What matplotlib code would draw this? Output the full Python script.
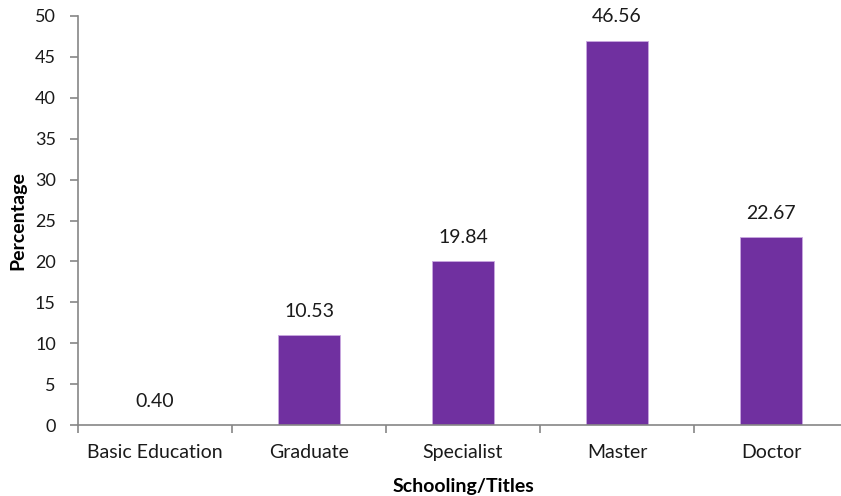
import numpy as np
import matplotlib
matplotlib.use("Agg")
import matplotlib.pyplot as plt

categories = ["Basic Education", "Graduate", "Specialist", "Master", "Doctor"]
labels = ["0.40", "10.53", "19.84", "46.56", "22.67"]
# bar heights as drawn in the source chart (rounded)
heights = [0, 11, 20, 47, 23]

plt.rcParams["font.family"] = ["Lato", "DejaVu Sans"]

fig = plt.figure(figsize=(8.41, 4.96), dpi=100)
ax = fig.add_axes([78 / 841, 71 / 496, 770 / 841, 409 / 496])

x = np.arange(len(categories))
ax.bar(x, heights, width=0.4, color="#7030A0", edgecolor="#C9A8E0", linewidth=0.6)

for xi, h, lab in zip(x, heights, labels):
    ax.annotate(lab, (xi, h), xytext=(0, 11), textcoords="offset points",
                ha="center", va="bottom", fontsize=14, color="#1a1a1a")

ax.set_xlim(-0.5, len(categories) - 0.5)
ax.set_ylim(0, 50)
ax.set_yticks(np.arange(0, 51, 5))
ax.set_xticks(x)
ax.set_xticklabels(categories)
ax.set_xticks(np.arange(-0.5, len(categories)), minor=True)

gray = "#868686"
for s in ["top", "right"]:
    ax.spines[s].set_visible(False)
for s in ["left", "bottom"]:
    ax.spines[s].set_color(gray)
    ax.spines[s].set_linewidth(1.2)

ax.tick_params(axis="y", direction="out", length=6, width=1.2, color=gray,
               labelsize=13, pad=10, labelcolor="#1a1a1a")
ax.tick_params(axis="x", which="major", length=0, labelsize=14, pad=14,
               labelcolor="#1a1a1a")
ax.tick_params(axis="x", which="minor", direction="out", length=6, width=1.2,
               color=gray)

ax.set_ylabel("Percentage", fontsize=14, fontweight="bold", labelpad=6)
ax.set_xlabel("Schooling/Titles", fontsize=14, fontweight="bold", labelpad=12)

fig.savefig("out.png", dpi=100)
